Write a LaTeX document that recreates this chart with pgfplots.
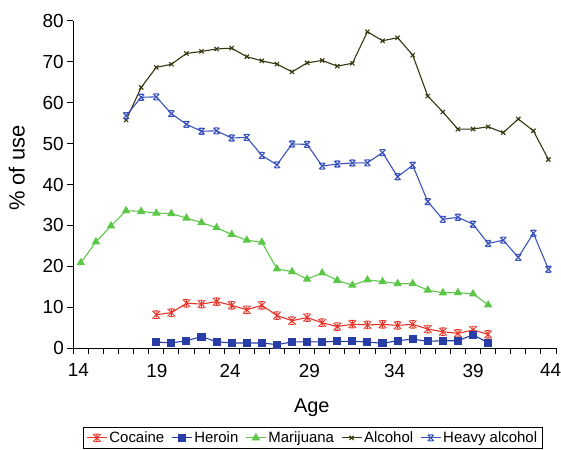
\documentclass[border=0pt]{standalone}
\usepackage{fontspec}
\setmainfont{Liberation Sans}
\usepackage{pgfplots}
\pgfplotsset{compat=1.18}

\definecolor{cocaine}{RGB}{232,52,40}
\definecolor{heroin}{RGB}{40,62,165}
\definecolor{marij}{RGB}{92,198,72}
\definecolor{alcohol}{RGB}{55,55,15}
\definecolor{heavy}{RGB}{58,82,188}

\pgfdeclareplotmark{xbar}{%
  \pgfpathmoveto{\pgfqpoint{-\pgfplotmarksize}{-\pgfplotmarksize}}%
  \pgfpathlineto{\pgfqpoint{\pgfplotmarksize}{\pgfplotmarksize}}%
  \pgfpathmoveto{\pgfqpoint{-\pgfplotmarksize}{\pgfplotmarksize}}%
  \pgfpathlineto{\pgfqpoint{\pgfplotmarksize}{-\pgfplotmarksize}}%
  \pgfpathmoveto{\pgfqpoint{-0.7\pgfplotmarksize}{\pgfplotmarksize}}%
  \pgfpathlineto{\pgfqpoint{0.7\pgfplotmarksize}{\pgfplotmarksize}}%
  \pgfpathmoveto{\pgfqpoint{-0.7\pgfplotmarksize}{-\pgfplotmarksize}}%
  \pgfpathlineto{\pgfqpoint{0.7\pgfplotmarksize}{-\pgfplotmarksize}}%
  \pgfusepathqstroke}
\pgfdeclareplotmark{zh}{%
  \pgfpathmoveto{\pgfqpoint{-\pgfplotmarksize}{-\pgfplotmarksize}}%
  \pgfpathlineto{\pgfqpoint{\pgfplotmarksize}{\pgfplotmarksize}}%
  \pgfpathmoveto{\pgfqpoint{-\pgfplotmarksize}{\pgfplotmarksize}}%
  \pgfpathlineto{\pgfqpoint{\pgfplotmarksize}{-\pgfplotmarksize}}%
  \pgfpathmoveto{\pgfqpoint{0pt}{-\pgfplotmarksize}}%
  \pgfpathlineto{\pgfqpoint{0pt}{\pgfplotmarksize}}%
  \pgfpathmoveto{\pgfqpoint{-0.6\pgfplotmarksize}{\pgfplotmarksize}}%
  \pgfpathlineto{\pgfqpoint{0.6\pgfplotmarksize}{\pgfplotmarksize}}%
  \pgfpathmoveto{\pgfqpoint{-0.6\pgfplotmarksize}{-\pgfplotmarksize}}%
  \pgfpathlineto{\pgfqpoint{0.6\pgfplotmarksize}{-\pgfplotmarksize}}%
  \pgfusepathqstroke}

\begin{document}
\begin{tikzpicture}
\useasboundingbox (0,0) rectangle (561bp,450bp);
\begin{axis}[
  at={(73.3bp,101.7bp)}, anchor=south west,
  scale only axis, width=482.7bp, height=327.6bp,
  xmin=13.5, xmax=45.5, ymin=0, ymax=80,
  axis lines=left,
  axis line style={-, black, line width=1pt},
  tick align=outside,
  major tick length=6bp,
  tick style={black, line width=0.9pt},
  xtick={13.5,14.5,...,45.5},
  xticklabels={},
  extra x ticks={13.83,19.04,23.9,29.15,34.8,40.0,45.15},
  extra x tick labels={14,19,24,29,34,39,44},
  extra x tick style={major tick length=0pt, xticklabel style={yshift=-12bp}},
  ytick={0,10,...,80},
  /pgf/number format/assume math mode=true,
  tick label style={font=\fontsize{19}{21}\selectfont},
  xlabel={Age},
  ylabel={\% of use},
  label style={font=\fontsize{20}{22}\selectfont},
  xlabel style={at={(axis description cs:0.494,-0.1975)}, anchor=base},
  ylabel style={at={(axis description cs:-0.117,0.55)}, anchor=center, font=\fontsize{22}{24}\selectfont},
  legend columns=-1,
  legend style={at={(axis description cs:0.496,-0.241)}, anchor=north,
    draw=black, line width=0.9pt, font=\fontsize{15}{17}\selectfont,
    inner xsep=3bp, inner ysep=2bp,
    /tikz/every even column/.append style={column sep=5bp}},
  legend image code/.code={%
    \draw[mark repeat=2,mark phase=2,#1] plot coordinates {(0bp,0bp) (10bp,0bp) (20bp,0bp)};},
  every axis plot/.append style={line width=1.1pt},
]
\addplot[color=cocaine, mark=zh, mark size=3.8bp, mark options={line width=0.9pt}] coordinates {
(19,8.2) (20,8.7) (21,11.0) (22,10.8) (23,11.4) (24,10.5) (25,9.4) (26,10.5) (27,8.0) (28,6.75) (29,7.5) (30,6.25) (31,5.3) (32,5.9) (33,5.7) (34,5.85) (35,5.6) (36,5.85) (37,4.7) (38,4.05) (39,3.65) (40,4.45) (41,3.4)};
\addlegendentry{Cocaine}
\addplot[color=heroin, mark=square*, mark size=3.5bp] coordinates {
(19,1.55) (20,1.3) (21,1.85) (22,2.85) (23,1.6) (24,1.3) (25,1.3) (26,1.3) (27,0.9) (28,1.55) (29,1.6) (30,1.55) (31,1.7) (32,1.7) (33,1.55) (34,1.2) (35,1.85) (36,2.25) (37,1.7) (38,1.85) (39,1.85) (40,3.3) (41,1.35)};
\addlegendentry{Heroin}
\addplot[color=marij, mark=triangle*, mark size=3.8bp] coordinates {
(14,20.9) (15,26.0) (16,29.9) (17,33.6) (18,33.45) (19,33.0) (20,32.9) (21,31.8) (22,30.7) (23,29.45) (24,27.8) (25,26.4) (26,25.9) (27,19.4) (28,18.7) (29,16.9) (30,18.4) (31,16.6) (32,15.4) (33,16.7) (34,16.3) (35,15.8) (36,15.8) (37,14.2) (38,13.55) (39,13.6) (40,13.3) (41,10.6)};
\addlegendentry{Marijuana}
\addplot[color=alcohol, mark=x, mark size=3bp] coordinates {
(17,55.75) (18,63.7) (19,68.6) (20,69.35) (21,72.0) (22,72.5) (23,73.1) (24,73.3) (25,71.2) (26,70.2) (27,69.4) (28,67.5) (29,69.7) (30,70.3) (31,68.9) (32,69.6) (33,77.3) (34,75.1) (35,75.85) (36,71.6) (37,61.6) (38,57.7) (39,53.5) (40,53.55) (41,54.1) (42,52.65) (43,56.0) (44,53.1) (45,46.1)};
\addlegendentry{Alcohol}
\addplot[color=heavy, mark=xbar, mark size=3bp] coordinates {
(17,56.8) (18,61.3) (19,61.4) (20,57.3) (21,54.7) (22,53.0) (23,53.1) (24,51.35) (25,51.5) (26,47.1) (27,44.8) (28,49.9) (29,49.8) (30,44.5) (31,45.0) (32,45.25) (33,45.3) (34,47.8) (35,41.9) (36,44.7) (37,35.8) (38,31.5) (39,32.0) (40,30.3) (41,25.6) (42,26.4) (43,22.2) (44,28.1) (45,19.3)};
\addlegendentry{Heavy alcohol}
\end{axis}
\end{tikzpicture}
\end{document}
